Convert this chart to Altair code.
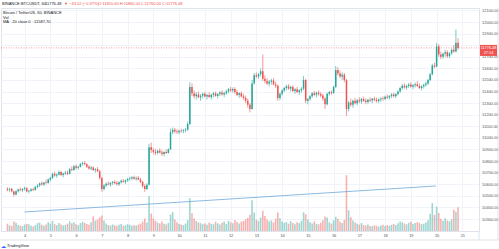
import altair as alt
import pandas as pd

# ---------------- data (2-hour candles, BTC/USDT, Oct 2020) ----------------
OPEN = [
    10560, 10552, 10560, 10538, 10512, 10540, 10555, 10548, 10560, 10566,
    10538, 10545, 10558, 10550, 10578, 10590, 10608, 10598, 10615, 10610,
    10640, 10655, 10690, 10675, 10685, 10705, 10680, 10692, 10700, 10690,
    10730, 10722, 10755, 10742, 10750, 10775, 10782, 10772, 10750, 10735,
    10745, 10722, 10730, 10712, 10655, 10560, 10590, 10605, 10598, 10612,
    10620, 10610, 10600, 10618, 10630, 10622, 10635, 10645, 10650, 10660,
    10648, 10655, 10640, 10620, 10585, 10560, 10595, 10920, 10895, 10880,
    10870, 10890, 10875, 10860, 10878, 10870, 10900, 11050, 11070, 11055,
    11048, 11062, 11058, 11065, 11072, 11120, 11440, 11385, 11360, 11375,
    11350, 11365, 11380, 11358, 11370, 11352, 11372, 11385, 11362, 11378,
    11392, 11375, 11385, 11400, 11420, 11410, 11422, 11395, 11370, 11385,
    11358, 11345, 11320, 11285, 11250, 11470, 11540, 11530, 11550, 11575,
    11510, 11490, 11470, 11485, 11495, 11462, 11450, 11345, 11380, 11410,
    11430, 11445, 11425, 11440, 11405, 11420, 11395, 11410, 11425, 11500,
    11320, 11335, 11360, 11385, 11372, 11390, 11378, 11365, 11340, 11290,
    11380, 11395, 11388, 11440, 11585, 11555, 11530, 11545, 11500, 11250,
    11305, 11285, 11320, 11300, 11325, 11315, 11335, 11320, 11310, 11330,
    11322, 11338, 11328, 11318, 11332, 11340, 11335, 11355, 11348, 11362,
    11375, 11360, 11378, 11400, 11430, 11450, 11435, 11448, 11460, 11442,
    11455, 11462, 11448, 11430, 11445, 11458, 11470, 11500, 11550, 11625,
    11615, 11790, 11720, 11700, 11725, 11740, 11705, 11730, 11760, 11745,
    11820,
]
HIGH = [
    10575, 10570, 10568, 10545, 10548, 10562, 10572, 10566, 10580, 10575,
    10552, 10565, 10570, 10585, 10600, 10615, 10625, 10620, 10640, 10650,
    10665, 10700, 10710, 10695, 10720, 10715, 10700, 10715, 10720, 10740,
    10755, 10765, 10770, 10760, 10785, 10795, 10800, 10780, 10765, 10758,
    10755, 10740, 10748, 10725, 10665, 10600, 10615, 10625, 10620, 10630,
    10635, 10628, 10625, 10640, 10645, 10640, 10655, 10665, 10670, 10675,
    10668, 10672, 10655, 10630, 10600, 10610, 10950, 10960, 10915, 10905,
    10898, 10910, 10895, 10885, 10900, 10910, 11080, 11090, 11085, 11075,
    11070, 11080, 11078, 11085, 11140, 11480, 11470, 11410, 11395, 11400,
    11378, 11390, 11398, 11382, 11392, 11380, 11395, 11400, 11388, 11405,
    11410, 11398, 11415, 11430, 11440, 11435, 11438, 11415, 11395, 11400,
    11380, 11365, 11340, 11300, 11500, 11560, 11565, 11560, 11600, 11720,
    11540, 11515, 11500, 11510, 11515, 11485, 11460, 11390, 11420, 11440,
    11460, 11465, 11450, 11455, 11430, 11440, 11420, 11440, 11535, 11510,
    11345, 11370, 11395, 11405, 11398, 11410, 11395, 11380, 11350, 11390,
    11405, 11410, 11450, 11620, 11610, 11580, 11565, 11560, 11510, 11320,
    11340, 11330, 11345, 11335, 11350, 11345, 11355, 11340, 11338, 11350,
    11345, 11355, 11348, 11340, 11352, 11358, 11365, 11375, 11370, 11385,
    11390, 11385, 11410, 11440, 11465, 11470, 11460, 11475, 11480, 11465,
    11478, 11490, 11470, 11455, 11470, 11485, 11510, 11560, 11640, 11650,
    11820, 11810, 11745, 11735, 11760, 11755, 11740, 11770, 11800, 11935,
    11860,
]
LOW = [
    10540, 10535, 10530, 10495, 10505, 10528, 10540, 10532, 10545, 10530,
    10520, 10535, 10540, 10545, 10565, 10575, 10590, 10585, 10600, 10605,
    10625, 10645, 10665, 10655, 10675, 10670, 10660, 10680, 10680, 10685,
    10712, 10715, 10730, 10725, 10745, 10760, 10765, 10740, 10725, 10720,
    10715, 10700, 10705, 10640, 10535, 10545, 10575, 10590, 10580, 10595,
    10600, 10590, 10585, 10605, 10612, 10600, 10620, 10630, 10635, 10640,
    10630, 10635, 10610, 10570, 10535, 10550, 10590, 10870, 10860, 10850,
    10855, 10865, 10845, 10840, 10860, 10865, 10895, 11030, 11040, 11035,
    11030, 11045, 11040, 11048, 11060, 11110, 11360, 11340, 11330, 11345,
    11320, 11340, 11350, 11330, 11345, 11330, 11350, 11355, 11340, 11360,
    11365, 11350, 11370, 11385, 11395, 11390, 11380, 11360, 11345, 11350,
    11330, 11300, 11260, 11220, 11245, 11460, 11515, 11510, 11530, 11490,
    11470, 11455, 11445, 11460, 11455, 11430, 11320, 11325, 11365, 11395,
    11410, 11415, 11400, 11395, 11380, 11385, 11370, 11390, 11410, 11300,
    11290, 11320, 11345, 11360, 11350, 11365, 11350, 11320, 11250, 11280,
    11365, 11370, 11380, 11430, 11540, 11515, 11500, 11480, 11190, 11230,
    11270, 11260, 11290, 11280, 11300, 11295, 11310, 11290, 11295, 11310,
    11300, 11315, 11305, 11300, 11310, 11320, 11325, 11335, 11330, 11345,
    11350, 11345, 11365, 11390, 11415, 11425, 11415, 11430, 11435, 11420,
    11435, 11440, 11420, 11410, 11425, 11440, 11455, 11490, 11540, 11600,
    11610, 11700, 11680, 11685, 11700, 11690, 11690, 11715, 11735, 11740,
    11760,
]
CLOSE = [
    10552, 10560, 10538, 10512, 10540, 10555, 10548, 10560, 10566, 10538,
    10545, 10558, 10550, 10578, 10590, 10608, 10598, 10615, 10610, 10640,
    10655, 10690, 10675, 10685, 10705, 10680, 10692, 10700, 10690, 10730,
    10722, 10755, 10742, 10750, 10775, 10782, 10772, 10750, 10735, 10745,
    10722, 10730, 10712, 10655, 10560, 10590, 10605, 10598, 10612, 10620,
    10610, 10600, 10618, 10630, 10622, 10635, 10645, 10650, 10660, 10648,
    10655, 10640, 10620, 10585, 10560, 10595, 10920, 10895, 10880, 10870,
    10890, 10875, 10860, 10878, 10870, 10900, 11050, 11070, 11055, 11048,
    11062, 11058, 11065, 11072, 11120, 11440, 11385, 11360, 11375, 11350,
    11365, 11380, 11358, 11370, 11352, 11372, 11385, 11362, 11378, 11392,
    11375, 11385, 11400, 11420, 11410, 11422, 11395, 11370, 11385, 11358,
    11345, 11320, 11285, 11250, 11470, 11540, 11530, 11550, 11575, 11510,
    11490, 11470, 11485, 11495, 11462, 11450, 11345, 11380, 11410, 11430,
    11445, 11425, 11440, 11405, 11420, 11395, 11410, 11425, 11500, 11320,
    11335, 11360, 11385, 11372, 11390, 11378, 11365, 11340, 11290, 11380,
    11395, 11388, 11440, 11585, 11555, 11530, 11545, 11500, 11250, 11305,
    11285, 11320, 11300, 11325, 11315, 11335, 11320, 11310, 11330, 11322,
    11338, 11328, 11318, 11332, 11340, 11335, 11355, 11348, 11362, 11375,
    11360, 11378, 11400, 11430, 11450, 11435, 11448, 11460, 11442, 11455,
    11462, 11448, 11430, 11445, 11458, 11470, 11500, 11550, 11625, 11615,
    11790, 11720, 11700, 11725, 11740, 11705, 11730, 11760, 11745, 11820,
    11776.48,
]
VOLUME = [
    5200, 4100, 3600, 6800, 5900, 4300, 3900, 3500, 4600, 5100,
    4800, 3700, 3300, 4200, 5600, 6100, 4400, 3800, 4700, 6400,
    5300, 7200, 4900, 4100, 5800, 4600, 3900, 4300, 5200, 6900,
    5500, 6200, 4800, 4200, 5700, 6600, 5900, 5100, 4500, 6300,
    10500, 7400, 8200, 9800, 11200, 7600, 5400, 4300, 3900, 4700,
    4100, 3600, 4400, 5000, 3800, 4200, 4900, 4400, 3700, 4100,
    3900, 4600, 5300, 6800, 8900, 6100, 25000, 12500, 9000, 7300,
    6100, 5400, 6900, 5200, 4700, 5800, 11800, 13500, 8200, 6300,
    5100, 4600, 4200, 5300, 7800, 23500, 12800, 8900, 7100, 6200,
    5600, 4900, 5300, 4400, 6100, 5200, 4800, 6700, 5500, 4600,
    5900, 6800, 5100, 7300, 6200, 5600, 7900, 6400, 5300, 6700,
    7100, 8300, 9400, 11600, 22000, 13200, 8100, 7200, 9600, 14500,
    10800, 8200, 6900, 7600, 6100, 8700, 13200, 9100, 6800, 5900,
    6400, 5200, 7100, 5800, 4900, 6300, 5600, 7400, 13400, 12100,
    8200, 6300, 5400, 6900, 5100, 4800, 5900, 7800, 10400, 9600,
    6200, 5300, 7600, 10200, 8700, 6600, 5800, 7900, 40000, 14800,
    9900, 7600, 6100, 5200, 4600, 5800, 4300, 3900, 4700, 3600,
    3400, 4100, 3700, 3200, 3900, 4400, 3600, 4200, 3800, 4500,
    5100, 4300, 5600, 6900, 6200, 5400, 4800, 5900, 6600, 5100,
    5700, 6400, 5800, 4900, 5300, 6100, 7800, 12400, 20000, 11600,
    17500, 12900, 8800, 7300, 9200, 7600, 6900, 8400, 15200, 13800,
    17000,
]
START_DAY = 3 + 8 / 24          # first candle: Oct 3, 08:00
STEP_DAY = 2 / 24               # 2-hour candles

DAY_TICKS = list(range(4, 22))
PRICE_TICKS = list(range(10300, 12101, 100))
HIDDEN_PRICE_LABEL = 11800      # covered by the last-price tag

TREND_DAY = [4.0, 19.97]
TREND_PRICE = [10361, 10585]

HEADER_SYMBOL = "BINANCE:BTCUSDT, 60"
HEADER_LAST = "11776.48"
HEADER_CHANGE = "▼ −43.52 (−0.37%)"
HEADER_OHLC = "O:11820.00 H:11860.00 L:11760.00 C:11776.48"
LEGEND_LINES = ["Bitcoin / TetherUS, 60, BINANCE", "Vol", "MA · 20 close 0 · 11587.70"]
TIMER = "27:14"

UP, DOWN = "#26a69a", "#ef5350"
FONT = "Liberation Sans"

# ---------------- frame ----------------
df = pd.DataFrame({"open": OPEN, "high": HIGH, "low": LOW, "close": CLOSE, "volume": VOLUME})
df["t"] = [START_DAY + STEP_DAY * i for i in range(len(df))]
df["dir"] = ["up" if c >= o else "down" for o, c in zip(df["open"], df["close"])]

trend = pd.DataFrame({"t": TREND_DAY, "p": TREND_PRICE})
last = pd.DataFrame({"close": [CLOSE[-1]], "label": [f"{CLOSE[-1]:.2f}"], "timer": [TIMER]})
one = pd.DataFrame({"a": [0]})

X_SCALE = alt.Scale(domain=[3.2776, 21.4525], nice=False, zero=False)
P_SCALE = alt.Scale(domain=[10196.7, 12120.8], nice=False, zero=False)
X_AXIS = alt.Axis(values=DAY_TICKS, format="d", grid=True, gridColor="#f0f3fa", gridWidth=1,
                  tickSize=0, labelFontSize=4, labelPadding=2.5, labelColor="#50535e",
                  labelFont=FONT, domainColor="#e0e3eb", labelFlush=False, title=None)
P_AXIS = alt.Axis(orient="right", values=PRICE_TICKS,
                  labelExpr=f"datum.value == {HIDDEN_PRICE_LABEL} ? '' : format(datum.value, '.2f')",
                  grid=True, gridColor="#f0f3fa",
                  gridWidth=1, tickSize=0, labelFontSize=4, labelPadding=2.5, labelColor="#50535e",
                  labelFont=FONT, domainColor="#e0e3eb", labelFlush=False, title=None)
COLOR = alt.Color("dir:N", scale=alt.Scale(domain=["up", "down"], range=[UP, DOWN]), legend=None)


def px(field):
    return alt.X(field, type="quantitative", scale=X_SCALE, axis=X_AXIS, title=None)


def py(field):
    return alt.Y(field, type="quantitative", scale=P_SCALE, axis=P_AXIS, title=None)


base = alt.Chart(df)

volume = base.mark_bar(size=1.6, opacity=0.45).encode(
    x=px("t"),
    y=alt.Y("volume:Q", scale=alt.Scale(domain=[0, 160000], nice=False), axis=None),
    color=COLOR,
)

trend_line = alt.Chart(trend).mark_line(color="#6fa8dc", strokeWidth=0.8).encode(x=px("t"), y=py("p"))
price_line = alt.Chart(last).mark_rule(color=DOWN, strokeDash=[1, 1.5], strokeWidth=0.7, opacity=0.8).encode(
    x=alt.value(0), x2=alt.value(478), y=py("close"))
wicks = base.mark_rule(strokeWidth=0.6).encode(x=px("t"), y=py("low"), y2=alt.Y2("high"), color=COLOR)
bodies = base.mark_bar(size=1.5).encode(x=px("t"), y=py("open"), y2=alt.Y2("close"), color=COLOR)
box = alt.Chart(last).mark_rule(color=DOWN, strokeWidth=11, yOffset=2.5).encode(
    x=alt.value(479), x2=alt.value(496), y=py("close"))
box_price = alt.Chart(last).mark_text(color="white", fontSize=3.8, font=FONT, align="center", baseline="middle", dy=-0.3).encode(
    x=alt.value(487.5), y=py("close"), text="label:N")
box_timer = alt.Chart(last).mark_text(color="white", fontSize=3.8, font=FONT, align="center", baseline="middle", dy=5).encode(
    x=alt.value(487.5), y=py("close"), text="timer:N")

price_layer = alt.layer(trend_line, price_line, wicks, bodies, box, box_price, box_timer)


def txt(s, x, y, color="#131722", size=4, weight="normal"):
    return alt.Chart(one).mark_text(text=s, color=color, fontSize=size, font=FONT, align="left",
                                    baseline="middle", fontWeight=weight).encode(x=alt.value(x), y=alt.value(y))


def hline(x1, x2, y):
    return alt.Chart(one).mark_rule(color="#e0e3eb", strokeWidth=1).encode(
        x=alt.value(x1), x2=alt.value(x2), y=alt.value(y))


def vline(x, y1, y2):
    return alt.Chart(one).mark_rule(color="#e0e3eb", strokeWidth=1).encode(
        x=alt.value(x), y=alt.value(y1), y2=alt.value(y2))


annotations = [
    txt(HEADER_SYMBOL, 1, -4.5),
    txt(HEADER_LAST, 44, -4.5),
    txt(HEADER_CHANGE, 63, -4.5, color=DOWN),
    txt(HEADER_OHLC, 97, -4.5, color=DOWN),
    txt(LEGEND_LINES[0], 2, 5),
    txt(LEGEND_LINES[1], 2, 9.5),
    txt(LEGEND_LINES[2], 2, 14),
    hline(-1, 498, 232),
    vline(497, 0, 232),
    vline(478, 223, 232),
    txt("☁", 0, 237.5, color="#2962ff", size=5),
    txt("TradingView", 6, 237.5, color="#131722", size=4),
]

chart = alt.layer(volume, price_layer, *annotations).resolve_scale(y="independent").properties(
    width=478, height=223,
    padding={"left": 1, "top": 8, "right": 20, "bottom": 18},
    autosize=alt.AutoSizeParams(type="none"),
    background="white",
).configure_view(stroke="#e0e3eb", strokeWidth=1)

chart.save("out.html", embed_options={"renderer": "svg", "actions": False})
